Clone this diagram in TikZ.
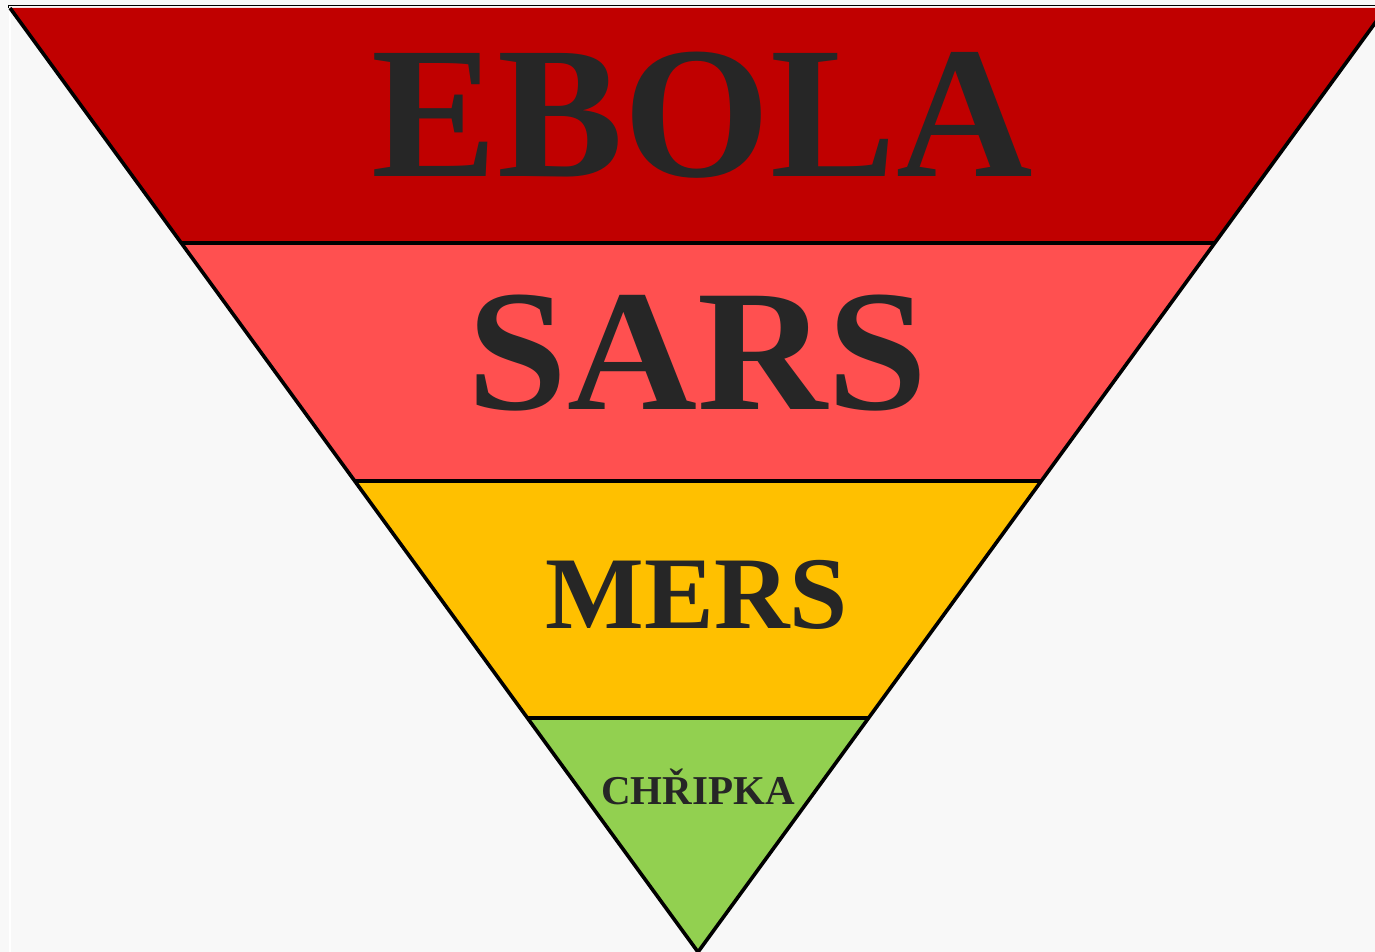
\documentclass[tikz,border=0pt]{standalone}
\usepackage{fontspec}
\setmainfont{Liberation Serif}
\definecolor{bgc}{HTML}{F8F8F8}
\definecolor{bandA}{HTML}{C00000}
\definecolor{bandB}{HTML}{FF5050}
\definecolor{bandC}{HTML}{FFC000}
\definecolor{bandD}{HTML}{92D050}
\definecolor{txt}{HTML}{262626}
\begin{document}
\begin{tikzpicture}[x=1pt,y=-1pt,
  band/.style={draw=black,line width=3.6pt,line join=miter},
  label/.style={anchor=base,inner sep=0pt,text=txt,font=\bfseries}]
\useasboundingbox (0,0) rectangle (1375,952);
\fill[bgc] (0,0) rectangle (1375,952);
% frame lines
\draw[white,line width=2pt] (10,7) -- (10,952);
\draw[white,line width=1.2pt] (9,7.2) -- (1375,7.2);
\draw[black,line width=1.5pt] (8,5.5) -- (1375,5.5);
\draw[black,line width=1.2pt] (8.2,5) -- (8.2,8);
% corner coordinates
\coordinate (tl) at (10,8);
\coordinate (tr) at (1386,8);
\coordinate (l1) at (181.3,243);
\coordinate (r1) at (1214.7,243);
\coordinate (l2) at (354.7,481);
\coordinate (r2) at (1041.3,481);
\coordinate (l3) at (527.4,718);
\coordinate (r3) at (868.6,718);
\coordinate (bt) at (698,952);
% bands
\begin{scope}
\clip (0,7.8) rectangle (1375,960);
\fill[bandA] (tl) -- (tr) -- (r1) -- (l1) -- cycle;
\fill[bandB] (l1) -- (r1) -- (r2) -- (l2) -- cycle;
\fill[bandC] (l2) -- (r2) -- (r3) -- (l3) -- cycle;
\fill[bandD] (l3) -- (r3) -- (bt) -- cycle;
\draw[band] (l1) -- (r1);
\draw[band] (l2) -- (r2);
\draw[band] (l3) -- (r3);
\draw[band] (tl) -- (bt) -- (tr);
\end{scope}
% labels
\node[label,font=\bfseries\fontsize{188}{188}\selectfont,xscale=1.005] (ebola) at (702.5,177) {EBOLA};
\node[label,font=\bfseries\fontsize{173}{173}\selectfont,xscale=1.04] (sars) at (697.5,409) {SARS};
\node[label,font=\bfseries\fontsize{103}{103}\selectfont,xscale=1.015] (mers) at (697,628) {MERS};
\node[label,font=\bfseries\fontsize{41}{41}\selectfont] (chripka) at (698,804) {CHŘIPKA};
\end{tikzpicture}
\end{document}
